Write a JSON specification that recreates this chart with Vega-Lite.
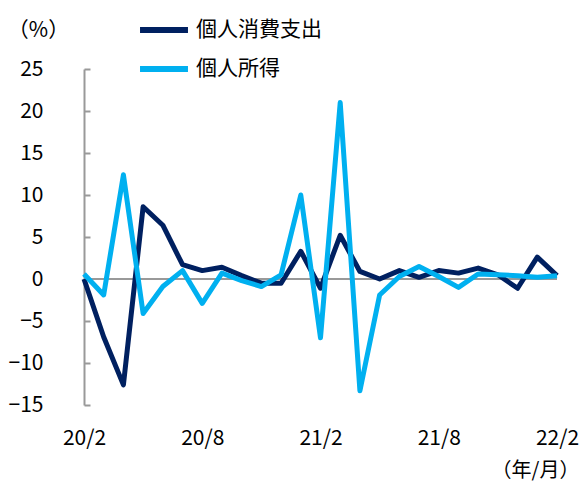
{
  "$schema": "https://vega.github.io/schema/vega-lite/v6.json",
  "autosize": {"type": "none"},
  "padding": {"left": 84, "top": 69, "right": 26, "bottom": 81},
  "width": 473,
  "height": 336,
  "background": "white",
  "config": {
    "view": {"stroke": null},
    "font": "Noto Sans CJK JP",
    "axis": {"labelFont": "Noto Sans CJK JP", "titleFont": "Noto Sans CJK JP"},
    "legend": {"labelFont": "Noto Sans CJK JP"}
  },
  "datasets": {
    "d": [
      {"month": "20/2", "series": "個人消費支出", "value": 0.0},
      {"month": "20/3", "series": "個人消費支出", "value": -6.9},
      {"month": "20/4", "series": "個人消費支出", "value": -12.6},
      {"month": "20/5", "series": "個人消費支出", "value": 8.6},
      {"month": "20/6", "series": "個人消費支出", "value": 6.4},
      {"month": "20/7", "series": "個人消費支出", "value": 1.7},
      {"month": "20/8", "series": "個人消費支出", "value": 1.0},
      {"month": "20/9", "series": "個人消費支出", "value": 1.4},
      {"month": "20/10", "series": "個人消費支出", "value": 0.4},
      {"month": "20/11", "series": "個人消費支出", "value": -0.5},
      {"month": "20/12", "series": "個人消費支出", "value": -0.5},
      {"month": "21/1", "series": "個人消費支出", "value": 3.3},
      {"month": "21/2", "series": "個人消費支出", "value": -1.1},
      {"month": "21/3", "series": "個人消費支出", "value": 5.2},
      {"month": "21/4", "series": "個人消費支出", "value": 0.9},
      {"month": "21/5", "series": "個人消費支出", "value": 0.0},
      {"month": "21/6", "series": "個人消費支出", "value": 1.0},
      {"month": "21/7", "series": "個人消費支出", "value": 0.2},
      {"month": "21/8", "series": "個人消費支出", "value": 1.0},
      {"month": "21/9", "series": "個人消費支出", "value": 0.7},
      {"month": "21/10", "series": "個人消費支出", "value": 1.3},
      {"month": "21/11", "series": "個人消費支出", "value": 0.5},
      {"month": "21/12", "series": "個人消費支出", "value": -1.1},
      {"month": "22/1", "series": "個人消費支出", "value": 2.6},
      {"month": "22/2", "series": "個人消費支出", "value": 0.4},
      {"month": "20/2", "series": "個人所得", "value": 0.6},
      {"month": "20/3", "series": "個人所得", "value": -1.9},
      {"month": "20/4", "series": "個人所得", "value": 12.4},
      {"month": "20/5", "series": "個人所得", "value": -4.1},
      {"month": "20/6", "series": "個人所得", "value": -0.9},
      {"month": "20/7", "series": "個人所得", "value": 1.0},
      {"month": "20/8", "series": "個人所得", "value": -2.9},
      {"month": "20/9", "series": "個人所得", "value": 0.7},
      {"month": "20/10", "series": "個人所得", "value": -0.2},
      {"month": "20/11", "series": "個人所得", "value": -0.9},
      {"month": "20/12", "series": "個人所得", "value": 0.5},
      {"month": "21/1", "series": "個人所得", "value": 10.0},
      {"month": "21/2", "series": "個人所得", "value": -7.0},
      {"month": "21/3", "series": "個人所得", "value": 21.0},
      {"month": "21/4", "series": "個人所得", "value": -13.3},
      {"month": "21/5", "series": "個人所得", "value": -1.9},
      {"month": "21/6", "series": "個人所得", "value": 0.3},
      {"month": "21/7", "series": "個人所得", "value": 1.5},
      {"month": "21/8", "series": "個人所得", "value": 0.3},
      {"month": "21/9", "series": "個人所得", "value": -1.0},
      {"month": "21/10", "series": "個人所得", "value": 0.6},
      {"month": "21/11", "series": "個人所得", "value": 0.5},
      {"month": "21/12", "series": "個人所得", "value": 0.4},
      {"month": "22/1", "series": "個人所得", "value": 0.2},
      {"month": "22/2", "series": "個人所得", "value": 0.4}
    ]
  },
  "layer": [
    {
      "data": {"values": [{"y": 0}]},
      "mark": {"type": "rule", "color": "#999999", "strokeWidth": 2},
      "encoding": {"y": {"field": "y", "type": "quantitative", "scale": {"domain": [-15, 25]}}}
    },
    {
      "data": {"name": "d"},
      "mark": {"type": "line", "strokeWidth": 5, "strokeJoin": "round", "strokeCap": "butt"},
      "encoding": {
        "x": {
          "field": "month", "type": "ordinal", "sort": null,
          "scale": {"type": "point", "padding": 0},
          "axis": {
            "values": ["20/2", "20/8", "21/2", "21/8", "22/2"],
            "domain": false, "ticks": false, "labelAngle": 0,
            "labelFontSize": 21, "labelColor": "#000000", "labelPadding": 22,
            "title": "（年/月）", "titleFontSize": 20, "titleFontWeight": "normal", "titleColor": "#000000",
            "titleX": 451, "titleY": 65, "titleAlign": "center", "titleBaseline": "middle"
          }
        },
        "y": {
          "field": "value", "type": "quantitative",
          "scale": {"domain": [-15, 25], "nice": false, "zero": false},
          "axis": {
            "values": [-15, -10, -5, 0, 5, 10, 15, 20, 25],
            "grid": false, "domainColor": "#999999", "domainWidth": 2,
            "tickColor": "#999999", "tickWidth": 2, "tickSize": -6,
            "labelFontSize": 21, "labelColor": "#000000", "labelPadding": 47,
            "title": "（%）", "titleAngle": 0, "titleFontSize": 21, "titleFontWeight": "normal", "titleColor": "#000000",
            "titleX": -46, "titleY": -39, "titleAlign": "center", "titleBaseline": "middle"
          }
        },
        "color": {
          "field": "series", "type": "nominal",
          "scale": {"domain": ["個人消費支出", "個人所得"], "range": ["#002060", "#00B0F0"]},
          "legend": {
            "title": null, "orient": "none", "legendX": 53, "legendY": -66,
            "symbolType": "stroke", "symbolSize": 2300, "symbolStrokeWidth": 6,
            "labelFontSize": 21, "labelColor": "#000000", "labelOffset": 5, "rowPadding": -2
          }
        }
      }
    }
  ]
}
